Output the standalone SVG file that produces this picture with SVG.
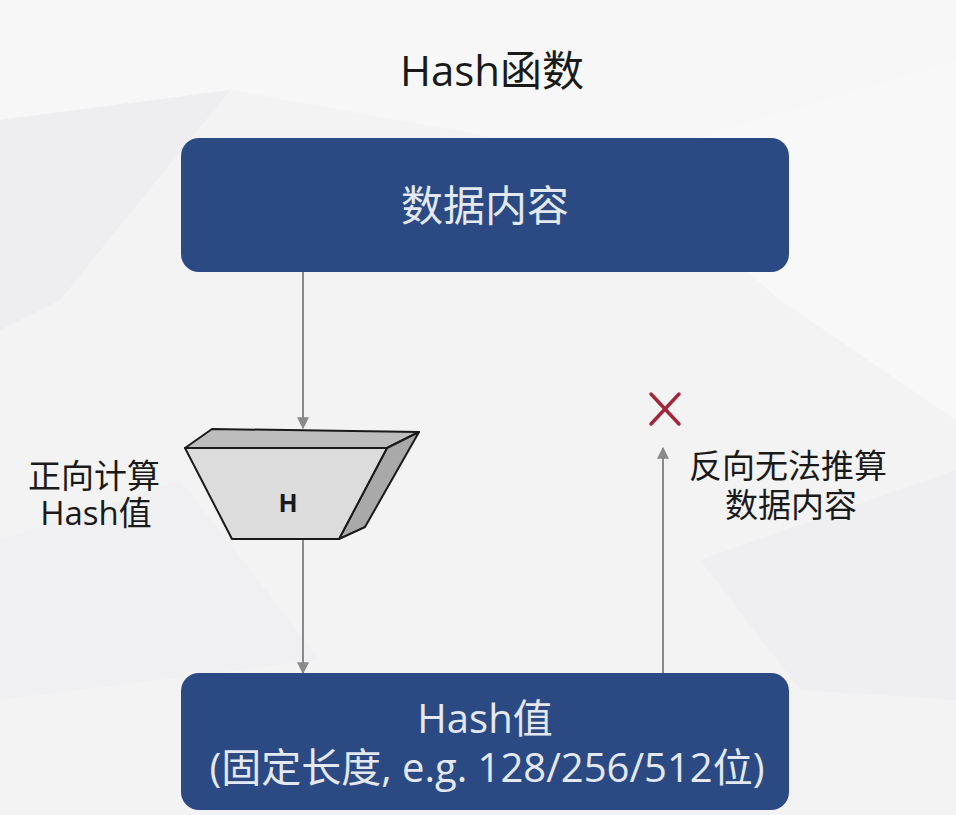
<svg xmlns="http://www.w3.org/2000/svg" width="956" height="815" viewBox="0 0 956 815">
  <defs>
    <style>
      .txt { font-family: "Open Sans", "Noto Sans CJK SC", sans-serif; text-anchor: middle; }
      .dark { fill: #1a1a1a; }
      .light { fill: #e4e8f0; }
      .box { fill: #2b4a83; }
      .conn { stroke: #8a8a8a; stroke-width: 2; fill: none; }
      .solid { stroke: #1a1a1a; stroke-width: 2; stroke-linejoin: round; }
    </style>
    <marker id="arrowBig" viewBox="0 0 10 10" refX="9" refY="5" markerWidth="14" markerHeight="12" markerUnits="userSpaceOnUse" orient="auto">
      <path d="M0,0 L10,5 L0,10 z" fill="#8a8a8a"/>
    </marker>
  </defs>

  <!-- faceted background -->
  <rect width="956" height="815" fill="#f3f3f4"/>
  <polygon points="0,0 956,0 956,60 620,160 230,90 0,120" fill="#f7f7f8"/>
  <polygon points="0,120 230,90 60,300 0,330" fill="#eeeef0"/>
  <polygon points="620,160 956,60 956,420 780,300" fill="#f8f8f9"/>
  <polygon points="0,540 180,480 320,660 0,700" fill="#f0f0f2"/>
  <polygon points="700,560 956,470 956,700 800,690" fill="#efeff1"/>

  <text class="txt dark" x="492" y="86" font-size="42">Hash函数</text>

  <!-- connectors -->
  <g id="connectors">
    <line class="conn" x1="303" y1="272" x2="303" y2="428" marker-end="url(#arrowBig)"/>
    <line class="conn" x1="303" y1="539" x2="303" y2="673" marker-end="url(#arrowBig)"/>
    <line class="conn" x1="663" y1="673" x2="663" y2="448" marker-end="url(#arrowBig)"/>
  </g>

  <g id="data">
    <rect class="box" x="181" y="138" width="608" height="134" rx="18"/>
    <text class="txt light" x="485" y="221" font-size="42">数据内容</text>
  </g>

  <g id="hash-fn">
    <polygon class="solid" points="185,448 212,429 419,432 387,448" fill="#bdbdbd"/>
    <polygon class="solid" points="387,448 419,432 365,527 339,539" fill="#a9a9a9"/>
    <polygon class="solid" points="185,448 387,448 339,539 232,539" fill="#dcdcdc"/>
    <text class="txt dark" x="288" y="512" font-size="25" font-weight="bold">H</text>
  </g>

  <g id="hash-value">
    <rect class="box" x="181" y="673" width="608" height="137" rx="18"/>
    <text class="txt light" x="485" y="733" font-size="40">Hash值</text>
    <text class="txt light" x="487" y="782" font-size="40">(固定长度, e.g. 128/256/512位)</text>
  </g>

  <g id="forward-label">
    <text class="txt dark" x="94" y="488" font-size="33">正向计算</text>
    <text class="txt dark" x="96" y="525" font-size="33">Hash值</text>
  </g>

  <g id="reverse-label">
    <text class="txt dark" x="788" y="478" font-size="33">反向无法推算</text>
    <text class="txt dark" x="791" y="517" font-size="33">数据内容</text>
  </g>

  <g id="no-mark" stroke="#a0283a" stroke-width="3.5" stroke-linecap="round">
    <line x1="651" y1="394" x2="679" y2="424"/>
    <line x1="679" y1="394" x2="651" y2="424"/>
  </g>
</svg>
